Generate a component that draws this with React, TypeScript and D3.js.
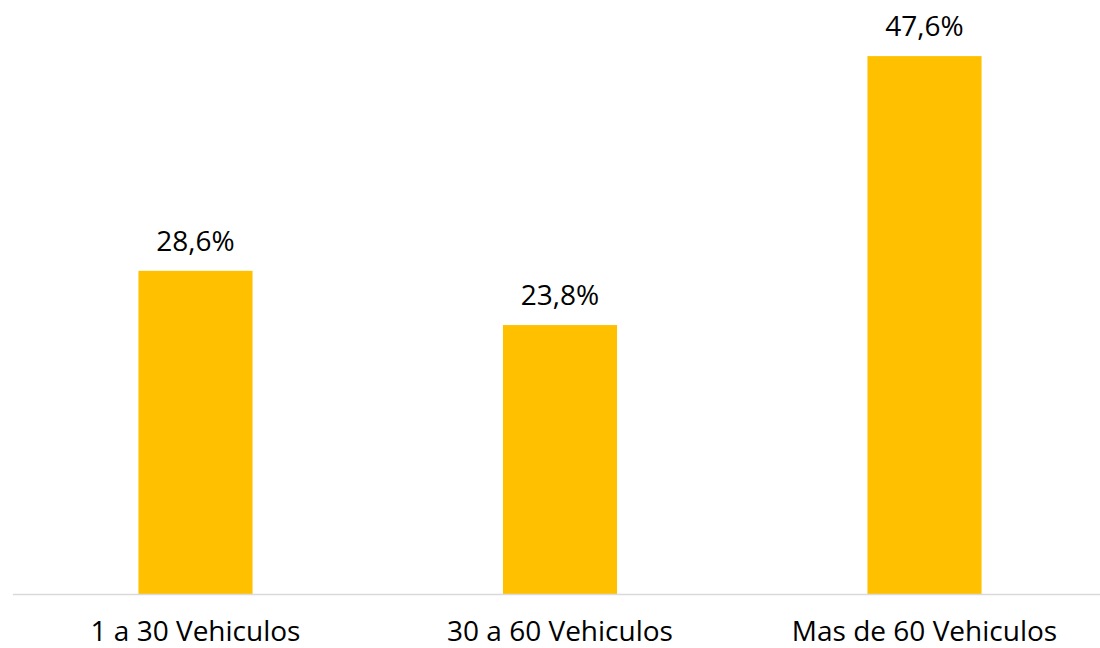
import React, { useEffect, useRef } from 'react';
import * as d3 from 'd3';

const categories = ['1 a 30 Vehiculos', '30 a 60 Vehiculos', 'Mas de 60 Vehiculos'];
const values = [28.6, 23.8, 47.6];
const valueLabels = ['28,6%', '23,8%', '47,6%'];

export default function App() {
  const svgRef = useRef<SVGSVGElement>(null);

  useEffect(() => {
    if (!svgRef.current) return;
    const svg = d3.select(svgRef.current);
    svg.selectAll('*').remove();

    const width = 1100;
    const height = 648;
    const font = '"Open Sans", sans-serif';

    const x = d3.scaleBand<string>()
      .domain(categories)
      .range([13.25, 1106.75])
      .paddingInner(0.687)
      .paddingOuter(0.3435);

    const y = d3.scaleLinear().domain([0, 50]).range([594, 29]);

    svg.attr('width', width).attr('height', height);

    // bars
    svg.append('g')
      .selectAll('rect')
      .data(values)
      .join('rect')
      .attr('x', (_, i) => x(categories[i])!)
      .attr('width', x.bandwidth())
      .attr('y', d => y(d))
      .attr('height', d => y(0) - y(d))
      .attr('fill', '#ffc000');

    // baseline
    svg.append('line')
      .attr('x1', 13)
      .attr('x2', width)
      .attr('y1', y(0) + 0.5)
      .attr('y2', y(0) + 0.5)
      .attr('stroke', '#d9d9d9')
      .attr('stroke-width', 1.5);

    // data labels
    svg.append('g')
      .selectAll('text')
      .data(values)
      .join('text')
      .attr('x', (_, i) => x(categories[i])! + x.bandwidth() / 2)
      .attr('y', d => y(d) - 20)
      .attr('text-anchor', 'middle')
      .attr('font-family', font)
      .attr('font-size', 28)
      .attr('fill', '#000')
      .text((_, i) => valueLabels[i]);

    // category labels
    svg.append('g')
      .selectAll('text')
      .data(categories)
      .join('text')
      .attr('x', d => x(d)! + x.bandwidth() / 2)
      .attr('y', 641)
      .attr('text-anchor', 'middle')
      .attr('font-family', font)
      .attr('font-size', 28)
      .attr('fill', '#000')
      .text(d => d);
  }, []);

  return (
    <div style={{ position: 'absolute', left: 0, top: 0 }}>
      <svg ref={svgRef} style={{ display: 'block' }} />
    </div>
  );
}
